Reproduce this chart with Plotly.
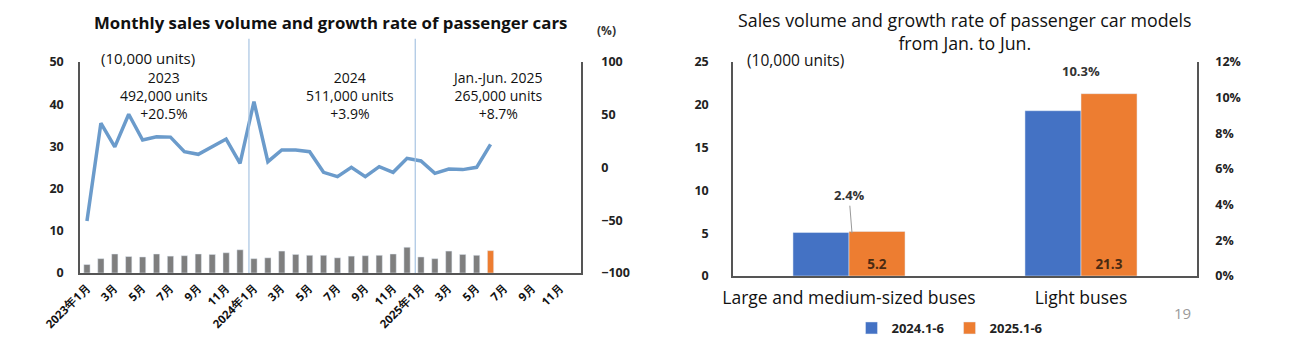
import plotly.graph_objects as go

# ---------------- data: left chart ----------------
months = list(range(36))
tick_idx = list(range(0, 36, 2))
tick_labels = ["2023年1月", "3月", "5月", "7月", "9月", "11月",
               "2024年1月", "3月", "5月", "7月", "9月", "11月",
               "2025年1月", "3月", "5月", "7月", "9月", "11月"]
sales = [2.0, 3.4, 4.5, 3.9, 3.8, 4.5, 4.0, 4.1, 4.5, 4.4, 4.8, 5.5,
         3.4, 3.6, 5.2, 4.4, 4.2, 4.2, 3.6, 4.0, 4.1, 4.2, 4.5, 6.1,
         3.8, 3.4, 5.2, 4.4, 4.2, 5.3]
growth = [-50.7, 42.0, 19.5, 50.5, 26.0, 29.2, 28.8, 15.0, 12.5, 19.7, 27.0, 4.0,
          62.4, 5.5, 16.6, 16.6, 15.0, -4.6, -8.7, 0.2, -8.7, 0.8, -4.6, 8.7,
          6.2, -5.5, -1.4, -2.0, 0.2, 22.0]
bar_colors = ["#7f7f7f"] * 29 + ["#ED7D31"]
year_breaks = [11.64, 23.59]
period_x = [5.5, 18.9, 29.5]
period_names = ["2023", "2024", "Jan.-Jun. 2025"]
period_units = ["492,000 units", "511,000 units", "265,000 units"]
period_growth = ["+20.5%", "+3.9%", "+8.7%"]

# ---------------- data: right chart ----------------
bus_types = ["Large and medium-sized buses", "Light buses"]
sales_2024 = [5.08, 19.31]
sales_2025 = [5.2, 21.3]
growth_rate = [2.4, 10.3]

FONT = "Open Sans"
W, H = 1290, 346

def px_x(x):
    return x / W

def px_y(y):
    return 1 - y / H

fig = go.Figure()

fig.add_trace(go.Bar(x=months[:len(sales)], y=sales, marker_color=bar_colors,
                     xaxis="x", yaxis="y", showlegend=False, width=0.45))
fig.add_trace(go.Scatter(x=months[:len(growth)], y=growth, mode="lines",
                         line=dict(color="#6b9bcb", width=3.5),
                         xaxis="x", yaxis="y2", showlegend=False))

fig.add_trace(go.Bar(x=bus_types, y=sales_2024, name="2024.1-6",
                     marker_color="#4472C4", xaxis="x2", yaxis="y3"))
fig.add_trace(go.Bar(x=bus_types, y=sales_2025, name="2025.1-6",
                     marker_color="#ED7D31", xaxis="x2", yaxis="y3",
                     text=[f"{v:.1f}" for v in sales_2025], textposition="inside",
                     insidetextanchor="start",
                     textfont=dict(family=FONT, size=13.5, color="#4a2a12", weight="bold")))
fig.add_trace(go.Scatter(x=bus_types, y=growth_rate, mode="markers",
                         marker=dict(size=1, color="rgba(0,0,0,0)"),
                         xaxis="x2", yaxis="y4", showlegend=False, hoverinfo="skip"))

axis_line = "#555555"
tickf = dict(family=FONT, size=12.5, color="#222222", weight="bold")

fig.update_layout(
    width=W, height=H, margin=dict(l=0, r=0, t=0, b=0, autoexpand=False),
    paper_bgcolor="white", plot_bgcolor="white",
    font=dict(family=FONT, color="#111111"),
    barmode="group", bargap=0.517, bargroupgap=0,
    xaxis=dict(domain=[px_x(80), px_x(581)], anchor="y", range=[-0.5, 35.5],
               tickmode="array", tickvals=tick_idx, ticktext=tick_labels,
               tickangle=-45, tickfont=dict(family=FONT, size=11.5, color="#111", weight="bold"),
               showline=True, linecolor=axis_line, linewidth=1.5, showgrid=False,
               zeroline=False, ticks="outside", ticklen=2, tickcolor="rgba(0,0,0,0)"),
    yaxis=dict(domain=[px_y(273), px_y(62)], anchor="x", range=[0, 50], dtick=10,
               showline=True, linecolor=axis_line, linewidth=1.5, showgrid=False,
               zeroline=False, tickfont=tickf, ticks="outside", ticklen=12,
               tickcolor="rgba(0,0,0,0)"),
    yaxis2=dict(overlaying="y", side="right", anchor="x", range=[-100, 100], dtick=50,
                showline=True, linecolor=axis_line, linewidth=1.5, showgrid=False,
                zeroline=False, tickfont=tickf, ticks="outside", ticklen=16,
                tickcolor="rgba(0,0,0,0)"),
    xaxis2=dict(domain=[px_x(733), px_x(1197)], anchor="y3",
                tickfont=dict(family=FONT, size=17.5, color="#111"),
                showline=True, linecolor=axis_line, linewidth=1.5, showgrid=False,
                ticks="outside", ticklen=5, tickcolor="rgba(0,0,0,0)"),
    yaxis3=dict(domain=[px_y(276), px_y(62)], anchor="x2", range=[0, 25], dtick=5,
                showline=True, linecolor=axis_line, linewidth=1.5, showgrid=False,
                zeroline=False, tickfont=tickf, ticks="outside", ticklen=20,
                tickcolor="rgba(0,0,0,0)"),
    yaxis4=dict(overlaying="y3", side="right", anchor="x2", range=[0, 12], dtick=2,
                ticksuffix="%", showline=True, linecolor=axis_line, linewidth=1.5,
                showgrid=False, zeroline=False, tickfont=tickf, ticks="outside",
                ticklen=14, tickcolor="rgba(0,0,0,0)"),
    legend=dict(orientation="h", x=px_x(950), y=px_y(328), xanchor="center",
                yanchor="middle", font=dict(family=FONT, size=13, color="#222", weight="bold"),
                itemwidth=30, tracegroupgap=0),
)

# year separators
for xb in year_breaks:
    fig.add_shape(type="line", xref="x", yref="y domain", x0=xb, x1=xb, y0=0, y1=1.11,
                  line=dict(color="#a8c4e2", width=1.2))

def txt(text, x, y, size, color="#111", xref="paper", bold=False):
    return dict(text=("<b>%s</b>" % text) if bold else text,
                x=x if xref != "paper" else px_x(x), y=px_y(y),
                xref=xref, yref="paper", showarrow=False,
                xanchor="center", yanchor="middle",
                font=dict(family=FONT, size=size, color=color))

ann = []
ann.append(txt("Monthly sales volume and growth rate of passenger cars", 330, 22, 16.8, bold=True))
ann.append(txt("(%)", 606, 30, 12, "#333", bold=True))
ann.append(txt("(10,000 units)", 148, 58, 15))
for xp, a, b, c in zip(period_x, period_names, period_units, period_growth):
    ann.append(txt("<br>".join([a, b, c]), xp, 96, 14, xref="x"))

ann.append(txt("Sales volume and growth rate of passenger car models<br>from Jan. to Jun.",
               965, 31, 17.8))
ann.append(txt("(10,000 units)", 795, 60, 15.5))
# growth-rate labels
ann.append(dict(text="<b>%.1f%%</b>" % growth_rate[0], x=bus_types[0], y=growth_rate[0],
                xref="x2", yref="y4", showarrow=True, arrowhead=0, arrowwidth=1,
                arrowcolor="#999", ax=-3, ay=-38, xshift=3,
                font=dict(family=FONT, size=13, color="#333")))
ann.append(dict(text="<b>%.1f%%</b>" % growth_rate[1], x=bus_types[1], y=growth_rate[1],
                xref="x2", yref="y4", showarrow=False, yshift=21,
                font=dict(family=FONT, size=13, color="#333")))
ann.append(txt("19", 1182, 313, 15, "#9a9a9a"))

fig.update_layout(annotations=ann)

fig.write_html("out.html")
